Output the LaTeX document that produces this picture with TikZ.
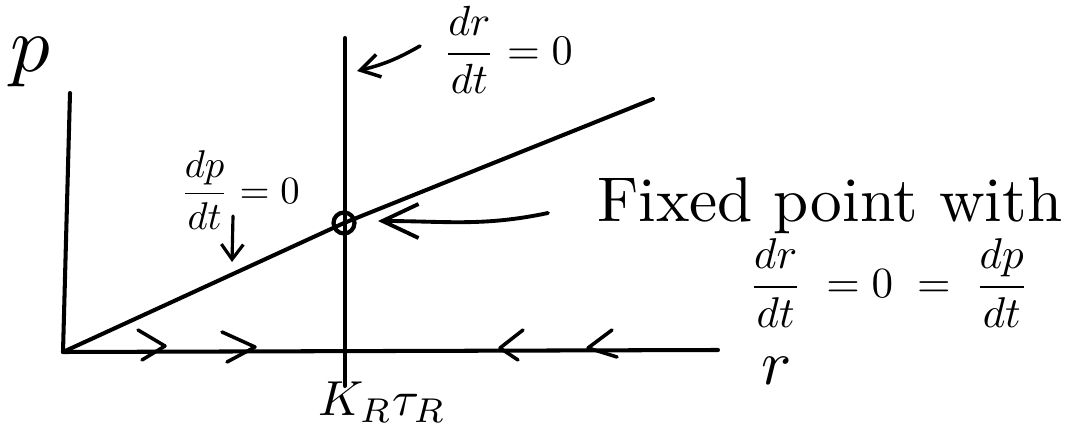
\documentclass[tikz,border=0pt]{standalone}
\usetikzlibrary{arrows.meta,calc}
\begin{document}
\begin{tikzpicture}[x=0.02cm,y=-0.02cm,
  ink/.style={line width=2.3pt, line cap=round, line join=round},
  chev/.style={line width=2pt, line cap=round, line join=round},
  barbm/.style={line width=2pt, line cap=round, -{Straight Barb[length=0.38cm,width=0.46cm,line width=2pt]}},
  barbl/.style={line width=2.2pt, line cap=round, -{Straight Barb[length=0.72cm,width=0.68cm,line width=2.2pt]}},
  barbs/.style={line width=1.8pt, line cap=round, -{Straight Barb[length=0.3cm,width=0.44cm,line width=1.8pt]}},
  fixedpt/.style={circle, draw, line width=2.4pt, minimum size=0.42cm, inner sep=0pt},
]
\useasboundingbox[fill=white] (0,0) rectangle (1092,438);
% axes and nullclines
\coordinate (O) at (63,352);
\coordinate (ytop) at (70,93);
\coordinate (xend) at (718,350);
\coordinate (vtop) at (345,38);
\coordinate (vbot) at (345,386);
\coordinate (lend) at (653,99);
\node[fixedpt] (fp) at (344,223) {};
\draw[ink] (O) -- (ytop);
\draw[ink] (O) -- (xend);
\draw[ink] (vtop) -- (vbot);
\draw[ink] (O) -- (fp.center) -- (lend);
% flow chevrons on the r axis
\coordinate (c1) at (165,346);
\coordinate (c2) at (255,347);
\coordinate (c3) at (500,348);
\coordinate (c4) at (588,348);
\draw[chev] ($(c1)+(-27,-16)$) -- (c1) -- ($(c1)+(-23,14)$);
\draw[chev] ($(c2)+(-33,-15)$) -- (c2) -- ($(c2)+(-28,15)$);
\draw[chev] ($(c3)+(23,-18)$) -- (c3) -- ($(c3)+(18,12)$);
\draw[chev] ($(c4)+(24,-18)$) -- (c4) -- ($(c4)+(29,9)$);
% labels
\node[scale=4.5] (plab) at (30,62) {$p$};
\node[scale=3.6, inner sep=0pt] (rlab) at (777,371) {$r$};
\node[scale=2.8] (kt) at (382,402) {$K_R\tau_R$};
\node[scale=2.4] (drlab) at (508,50) {$\displaystyle\frac{dr}{dt}=0$};
\node[scale=2.2] (dplab) at (240,190) {$\displaystyle\frac{dp}{dt}=0$};
\node[scale=3.6, anchor=base west] (fixlab) at (575,222) {Fixed point with};
\node[scale=2.45, inner sep=0pt] (eqlab) at (889,283) {$\displaystyle\frac{dr}{dt}\;=0\;=\;\frac{dp}{dt}$};
% pointer arrows
\coordinate (drtail) at (420,46);
\coordinate (drhead) at (357,71);
\draw[barbm] (drtail) to[bend left=8] (drhead);
\coordinate (fptail) at (548,213);
\coordinate (fphead) at (378,221);
\draw[barbl] (fptail) to[out=192,in=0] (fphead);
\coordinate (dptail) at (233,216);
\coordinate (dphead) at (232,262);
\draw[barbs] (dptail) -- (dphead);
\end{tikzpicture}
\end{document}
